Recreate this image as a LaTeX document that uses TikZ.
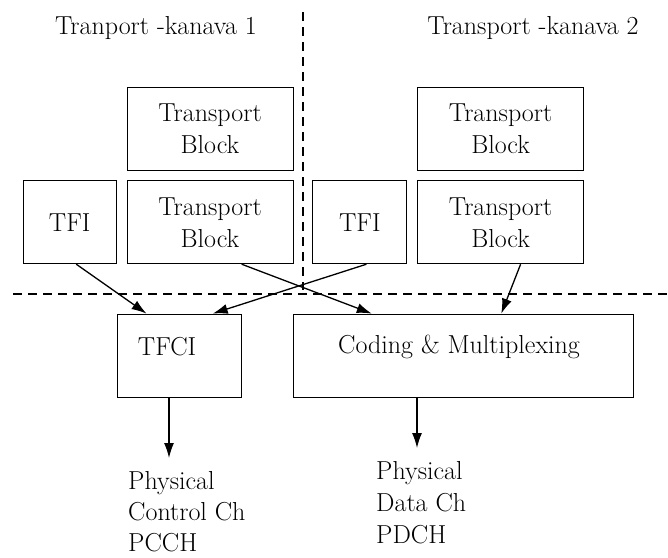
\documentclass[tikz,border=0pt]{standalone}
\usepackage{fontspec}
\usetikzlibrary{arrows.meta,positioning,calc}

\tikzset{
  blk/.style={draw, line width=0.8pt, minimum width=166pt, minimum height=83pt,
    inner sep=0pt, align=center},
  tfibox/.style={blk, minimum width=93pt},
  sep/.style={line width=1.3pt, dash pattern=on 9pt off 6pt},
  flow/.style={line width=1.3pt, -{Latex[length=15pt,width=10pt]}},
  txt/.style={inner sep=0pt, align=left},
}

\begin{document}
\begin{tikzpicture}[x=1pt, y=-1pt, font=\fontsize{26}{32}\selectfont]
\useasboundingbox (0,0) rectangle (668,557);

\node (title1) at (156,28) {Tranport -kanava 1};
\node (title2) at (533,28) {Transport -kanava 2};

\node (tb1a) [blk] at (210,128.5) {Transport\\Block};
\node (tb1b) [blk, below=10pt of tb1a] {Transport\\Block};
\node (tfi1) [tfibox, left=10pt of tb1b] {TFI};
\node (tfi2) [tfibox, minimum width=94pt, right=19pt of tb1b] {TFI};
\node (tb2b) [blk, right=10pt of tfi2] {Transport\\Block};
\node (tb2a) [blk, above=10pt of tb2b] {Transport\\Block};

\node (tfci) [blk, minimum width=124pt] at (179,355.5) {};
\node (coding) [blk, minimum width=340pt, right=52pt of tfci] {};
\node (tfcitxt) at (167,347) {TFCI};
\node (codingtxt) at (459,347) {Coding \& Multiplexing};

\node (pcch) [txt, anchor=north west, font=\fontsize{26}{31}\selectfont] at (128,471) {Physical\\Control Ch\\PCCH};
\node (pdch) [txt, anchor=north west] at (376,461) {Physical\\Data Ch\\PDCH};

% channel separators
\coordinate (vtop) at (303,12);
\coordinate (vbot) at (303,290);
\coordinate (hleft) at (13,294);
\coordinate (hright) at (668,294);
\draw[sep] (vtop) -- (vbot);
\draw[sep] (hleft) -- (hright);

\draw[flow] ($(tfi1.south west)!0.57!(tfi1.south east)$) -- ($(tfci.north west)!0.24!(tfci.north east)$);
\draw[flow] ($(tfi2.south west)!0.57!(tfi2.south east)$) -- ($(tfci.north west)!0.77!(tfci.north east)$);
\draw[flow] ($(tb1b.south west)!0.69!(tb1b.south east)$) -- ($(coding.north west)!0.23!(coding.north east)$);
\draw[flow] ($(tb2b.south west)!0.62!(tb2b.south east)$) -- ($(coding.north west)!0.61!(coding.north east)$);

\coordinate (pcchin) at (169,458);
\coordinate (pdchin) at (417,448);
\draw[flow] (tfci.south -| pcchin) -- (pcchin);
\draw[flow] (coding.south -| pdchin) -- (pdchin);
\end{tikzpicture}
\end{document}
